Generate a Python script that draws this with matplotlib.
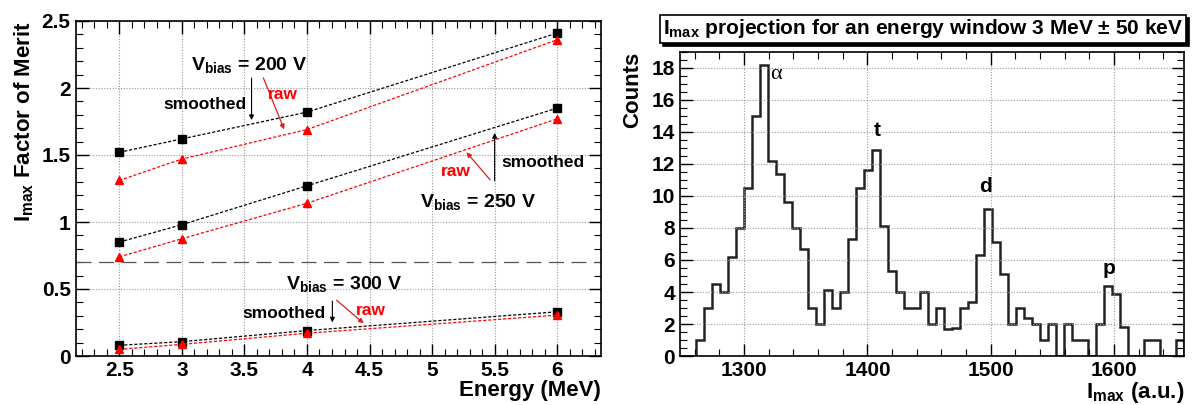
import numpy as np
import matplotlib.pyplot as plt
from matplotlib.ticker import MultipleLocator

plt.rcParams['font.family'] = ['Liberation Sans', 'DejaVu Sans']
plt.rcParams['font.weight'] = 'bold'
plt.rcParams['axes.labelweight'] = 'bold'
plt.rcParams['mathtext.fontset'] = 'custom'
plt.rcParams['mathtext.rm'] = 'Liberation Sans:bold'
plt.rcParams['mathtext.bf'] = 'Liberation Sans:bold'
plt.rcParams['mathtext.it'] = 'Liberation Sans:bold'

# ---- left panel data: I_max figure of merit vs energy ----
energy = [2.5, 3, 4, 6]
fom_200_smoothed = [1.52, 1.62, 1.82, 2.41]
fom_200_raw = [1.31, 1.47, 1.69, 2.36]
fom_250_smoothed = [0.85, 0.98, 1.27, 1.85]
fom_250_raw = [0.74, 0.875, 1.14, 1.77]
fom_300_smoothed = [0.08, 0.107, 0.19, 0.33]
fom_300_raw = [0.05, 0.087, 0.17, 0.305]
threshold = 0.7

# ---- right panel data: I_max histogram ----
hist_start = 1248.0
bin_width = 6.487
counts = [0, 0, 1, 3, 4.5, 4, 6.2, 8, 10.5, 15, 18.2, 12.2, 11.4, 9.6, 8, 6.7,
          3, 2, 4.1, 3, 4, 7.3, 10.5, 11.6, 12.9, 8.1, 5.3, 4, 3, 3, 4, 2, 3,
          1.7, 1.75, 3, 3.4, 6.3, 9.2, 7.1, 5.1, 2, 3, 2.4, 2, 1, 2, 0, 2, 1,
          1, 0, 2, 4.4, 3.9, 1.8, 0, 0, 1, 1, 0, 0, 1]
peak_labels = ['α', 't', 'd', 'p']
peak_pos = [(1326, 17.6), (1408, 14.1), (1496, 10.6), (1596, 5.5)]

fig = plt.figure(figsize=(11.92, 4.05), dpi=100)
ax1 = fig.add_axes([75.5 / 1192, 1 - 356 / 405, (601 - 75.5) / 1192, (356 - 21) / 405])
ax2 = fig.add_axes([680 / 1192, 1 - 356 / 405, (1184 - 680) / 1192, (356 - 52) / 405])


def root_style(ax, xmaj, xmin, ymaj, ymin):
    ax.xaxis.set_major_locator(MultipleLocator(xmaj))
    ax.xaxis.set_minor_locator(MultipleLocator(xmin))
    ax.yaxis.set_major_locator(MultipleLocator(ymaj))
    ax.yaxis.set_minor_locator(MultipleLocator(ymin))
    ax.tick_params(which='both', direction='in', top=True, right=True, labelsize=15)
    ax.tick_params(which='major', length=9, width=1)
    ax.tick_params(which='minor', length=5, width=0.8)
    ax.grid(True, which='major', linestyle=(0, (1, 1.5)), color='#999999', lw=0.8)
    for s in ax.spines.values():
        s.set_linewidth(1.2)


# ---- left panel ----
ls = (0, (2.5, 1.5))
ax1.plot(energy, fom_200_smoothed, color='black', ls=ls, lw=0.9, marker='s', ms=5.5)
ax1.plot(energy, fom_200_raw, color='red', ls=ls, lw=0.9, marker='^', ms=6)
ax1.plot(energy, fom_250_smoothed, color='black', ls=ls, lw=0.9, marker='s', ms=5.5)
ax1.plot(energy, fom_250_raw, color='red', ls=ls, lw=0.9, marker='^', ms=6)
ax1.plot(energy, fom_300_smoothed, color='black', ls=ls, lw=0.9, marker='s', ms=5.5)
ax1.plot(energy, fom_300_raw, color='red', ls=ls, lw=0.9, marker='^', ms=6)
ax1.axhline(threshold, color='#555555', lw=0.9, ls=(0, (12, 6)))

ax1.set_xlim(2.15, 6.35)
ax1.set_ylim(0, 2.5)
root_style(ax1, 0.5, 0.1, 0.5, 0.1)
ax1.xaxis.set_major_formatter(plt.FuncFormatter(lambda v, p: f'{v:g}'))
ax1.yaxis.set_major_formatter(plt.FuncFormatter(lambda v, p: f'{v:g}'))
ax1.set_xlabel('Energy (MeV)', fontsize=16, loc='right', labelpad=0)
ax1.set_ylabel(r'$\mathregular{I_{max}}$ Factor of Merit', fontsize=16, loc='top', labelpad=4)

arw_k = dict(arrowstyle='-|>', color='black', lw=0.8, mutation_scale=7)
arw_r = dict(arrowstyle='-|>', color='#d62020', lw=0.9, mutation_scale=7)

# 200 V
ax1.text(3.54, 2.17, r'$\mathregular{V_{bias}}$ = 200 V', fontsize=14, ha='center', va='center')
ax1.annotate('', xy=(3.557, 1.74), xytext=(3.557, 2.095), arrowprops=arw_k)
ax1.annotate('', xy=(3.826, 1.672), xytext=(3.643, 2.095), arrowprops=arw_r)
ax1.text(3.52, 1.88, 'smoothed', fontsize=12.5, ha='right', va='center')
ax1.text(3.81, 1.95, 'raw', fontsize=12.5, color='red', ha='center', va='center')

# 250 V
ax1.text(5.37, 1.15, r'$\mathregular{V_{bias}}$ = 250 V', fontsize=14, ha='center', va='center')
ax1.annotate('', xy=(5.50, 1.685), xytext=(5.50, 1.287), arrowprops=arw_k)
ax1.annotate('', xy=(5.26, 1.536), xytext=(5.478, 1.30), arrowprops=arw_r)
ax1.text(5.55, 1.444, 'smoothed', fontsize=12.5, ha='left', va='center')
ax1.text(5.19, 1.38, 'raw', fontsize=12.5, color='red', ha='center', va='center')

# 300 V
ax1.text(4.30, 0.54, r'$\mathregular{V_{bias}}$ = 300 V', fontsize=14, ha='center', va='center')
ax1.annotate('', xy=(4.203, 0.23), xytext=(4.203, 0.43), arrowprops=arw_k)
ax1.annotate('', xy=(4.47, 0.23), xytext=(4.22, 0.43), arrowprops=arw_r)
ax1.text(4.15, 0.318, 'smoothed', fontsize=12.5, ha='right', va='center')
ax1.text(4.51, 0.343, 'raw', fontsize=12.5, color='red', ha='center', va='center')

# ---- right panel ----
edges = hist_start + bin_width * np.arange(len(counts) + 1)
ax2.stairs(counts, edges, color='#222222', lw=1.8)
ax2.set_xlim(edges[0], edges[-1])
ax2.set_ylim(0, 19.0)
root_style(ax2, 100, 20, 2, 0.5)
ax2.set_xlabel(r'$\mathregular{I_{max}}$ (a.u.)', fontsize=16, loc='right', labelpad=0)
ax2.set_ylabel('Counts', fontsize=16, loc='top', labelpad=6)

for ax in (ax1, ax2):
    for t in ax.get_xticklabels() + ax.get_yticklabels():
        t.set_fontweight('bold')

for lab, (px, py) in zip(peak_labels, peak_pos):
    if lab == 'α':
        ax2.text(px, py, lab, fontsize=16, ha='center', va='center',
                 family=['Liberation Serif', 'DejaVu Serif'], fontweight='normal')
    else:
        ax2.text(px, py, lab, fontsize=15, ha='center', va='center')

title = r'$\mathregular{I_{max}}$ projection for an energy window 3 MeV $\pm$ 50 keV'
tx, ty = 923 / 1192, 1 - 29 / 405
fig.text(tx + 0.0025, ty - 0.007, title, fontsize=15, ha='center', va='center',
         color='black', bbox=dict(boxstyle='square,pad=0.12', fc='black', ec='black', lw=1.2))
fig.text(tx, ty, title, fontsize=15, ha='center', va='center',
         bbox=dict(boxstyle='square,pad=0.12', fc='white', ec='black', lw=1.2))

fig.savefig('out.png', dpi=100)
